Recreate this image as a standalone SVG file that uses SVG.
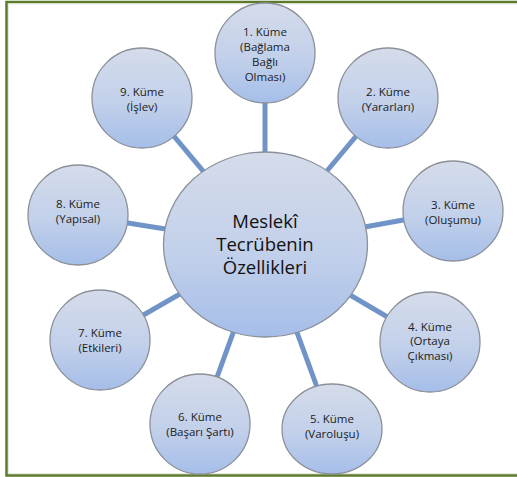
<svg xmlns="http://www.w3.org/2000/svg" width="517" height="477" viewBox="0 0 517 477">
  <defs>
    <linearGradient id="ballFill" x1="0" y1="0" x2="0" y2="1">
      <stop offset="0" stop-color="#d5dcea"/>
      <stop offset="0.55" stop-color="#c2d0ea"/>
      <stop offset="1" stop-color="#a5bee9"/>
    </linearGradient>
  </defs>
  <style>
    .ball { fill: url(#ballFill); stroke: #8b9099; stroke-width: 1.3; }
    .link { stroke: #7094c8; stroke-width: 5; }
    .lbl { font-family: "Open Sans", "Noto Sans", sans-serif; font-size: 11.5px; fill: #1c1c1c; text-anchor: middle; }
    .hub { font-family: "Open Sans", "Noto Sans", sans-serif; font-size: 18.5px; fill: #111; text-anchor: middle; }
  </style>

  <rect x="0" y="0" width="517" height="477" fill="#ffffff"/>

  <!-- frame -->
  <rect x="6.5" y="2" width="520" height="473.5" fill="none" stroke="#5c7a2c" stroke-width="2.5"/>
  <rect x="8.5" y="4" width="516" height="469.5" fill="none" stroke="#dfe3d8" stroke-width="0.8"/>

  <!-- spokes from hub to each cluster -->
  <g id="connectors">
    <line class="link" x1="265" y1="245" x2="265" y2="53"/>
    <line class="link" x1="265" y1="245" x2="388" y2="98"/>
    <line class="link" x1="265" y1="245" x2="453" y2="211"/>
    <line class="link" x1="265" y1="245" x2="430" y2="342"/>
    <line class="link" x1="265" y1="245" x2="332" y2="428"/>
    <line class="link" x1="265" y1="245" x2="200" y2="424"/>
    <line class="link" x1="265" y1="245" x2="100" y2="340"/>
    <line class="link" x1="265" y1="245" x2="78" y2="215"/>
    <line class="link" x1="265" y1="245" x2="142" y2="98"/>
  </g>

  <g id="hub">
    <ellipse class="ball" cx="265.5" cy="244.5" rx="102" ry="92.5"/>
    <text class="hub" x="265" y="228">Meslekî</text>
    <text class="hub" x="265" y="251">Tecrübenin</text>
    <text class="hub" x="265" y="273.5">Özellikleri</text>
  </g>

  <g id="kume1">
    <circle class="ball" cx="265" cy="53" r="50"/>
    <text class="lbl" x="265" y="36">1. Küme</text>
    <text class="lbl" x="265" y="51">(Bağlama</text>
    <text class="lbl" x="265" y="66">Bağlı</text>
    <text class="lbl" x="265" y="81">Olması)</text>
  </g>

  <g id="kume2">
    <circle class="ball" cx="388" cy="98" r="50"/>
    <text class="lbl" x="388" y="96">2. Küme</text>
    <text class="lbl" x="388" y="111">(Yararları)</text>
  </g>

  <g id="kume3">
    <circle class="ball" cx="453" cy="211" r="50"/>
    <text class="lbl" x="453" y="209">3. Küme</text>
    <text class="lbl" x="453" y="224">(Oluşumu)</text>
  </g>

  <g id="kume4">
    <circle class="ball" cx="430" cy="342" r="50"/>
    <text class="lbl" x="430" y="331">4. Küme</text>
    <text class="lbl" x="430" y="345">(Ortaya</text>
    <text class="lbl" x="430" y="360">Çıkması)</text>
  </g>

  <g id="kume5">
    <ellipse class="ball" cx="332" cy="429" rx="50" ry="45"/>
    <text class="lbl" x="332" y="423">5. Küme</text>
    <text class="lbl" x="332" y="438">(Varoluşu)</text>
  </g>

  <g id="kume6">
    <circle class="ball" cx="200" cy="424" r="50"/>
    <text class="lbl" x="200" y="421">6. Küme</text>
    <text class="lbl" x="200" y="436">(Başarı Şartı)</text>
  </g>

  <g id="kume7">
    <circle class="ball" cx="100" cy="340" r="50"/>
    <text class="lbl" x="100" y="337">7. Küme</text>
    <text class="lbl" x="100" y="352">(Etkileri)</text>
  </g>

  <g id="kume8">
    <circle class="ball" cx="78" cy="215" r="50"/>
    <text class="lbl" x="78" y="208">8. Küme</text>
    <text class="lbl" x="78" y="223">(Yapısal)</text>
  </g>

  <g id="kume9">
    <circle class="ball" cx="142" cy="98" r="50"/>
    <text class="lbl" x="142" y="96">9. Küme</text>
    <text class="lbl" x="142" y="111">(İşlev)</text>
  </g>
</svg>
